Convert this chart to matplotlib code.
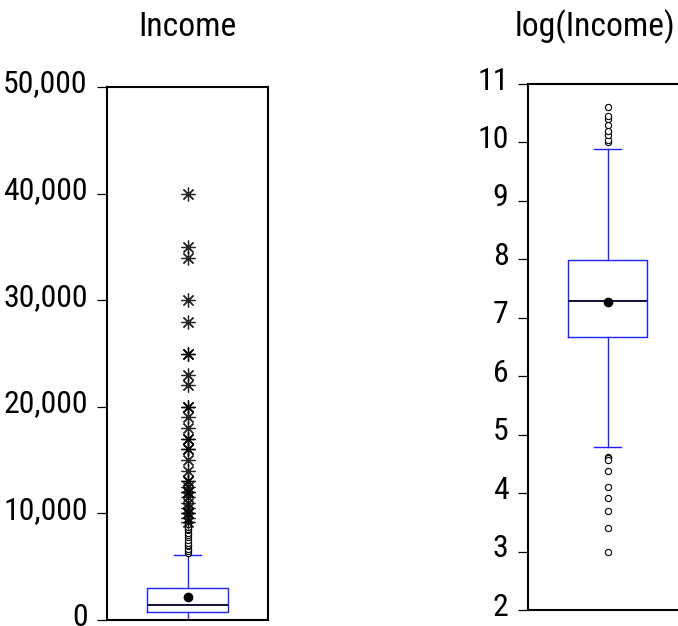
import matplotlib
matplotlib.use("Agg")
import matplotlib.pyplot as plt
from matplotlib.ticker import FuncFormatter
import matplotlib.font_manager as fm
import matplotlib.transforms as mtransforms
from matplotlib.textpath import TextPath
from matplotlib.font_manager import FontProperties

# ---- data ----
titles = ["Income", "log(Income)"]

inc_q1, inc_med, inc_q3 = 750, 1400, 3000
inc_mean = 2150
inc_whislo, inc_whishi = 20, 6100
inc_near_outliers = [6300, 6500, 6700, 6900, 7000, 7200, 7500, 7800, 8000,
                     8200, 8400, 8500, 8700, 9000]
inc_far_outliers = [40000, 35000, 34000, 30000, 28000, 25000, 25000, 23000,
                    22000, 20000, 20000, 19000, 18000, 17000, 17000, 16000,
                    16000, 15000, 14000, 13000, 13000, 12500, 12000, 12000,
                    11500, 11000, 10500, 10000, 10000, 9600, 9200]
inc_ticks = [0, 10000, 20000, 30000, 40000, 50000]

log_q1, log_med, log_q3 = 6.67, 7.29, 7.99
log_mean = 7.27
log_whislo, log_whishi = 4.79, 9.89
log_outliers = [10.0, 10.05, 10.13, 10.2, 10.3, 10.4, 10.46, 10.6,
                4.62, 4.6, 4.57, 4.38, 4.1, 3.92, 3.7, 3.4, 3.0]
log_ticks = [2, 3, 4, 5, 6, 7, 8, 9, 10, 11]

# ---- pick a narrow font if one is installed ----
names = {f.name for f in fm.fontManager.ttflist}
family, stretch = 'Liberation Sans', 'normal'
for cand in ['Liberation Sans Narrow', 'Arial Narrow', 'Roboto Condensed',
             'Open Sans Condensed', 'Noto Sans Condensed', 'DejaVu Sans Condensed']:
    if cand in names:
        family = cand
        break
else:
    for f in fm.fontManager.ttflist:
        if f.name in ('Liberation Sans', 'Noto Sans', 'Roboto', 'Open Sans', 'DejaVu Sans') \
                and str(f.stretch) in ('condensed', 'semi-condensed', 'extra-condensed', '75', '62.5', '87.5') \
                and f.style == 'normal':
            family, stretch = f.name, f.stretch
            break
plt.rcParams['font.family'] = [family, 'DejaVu Sans']
fp = FontProperties(family=family, stretch=stretch)

def size_for(text, target_px, max_pt):
    w = TextPath((0, 0), text, size=10, prop=fp).get_extents().width * 100 / 72
    return min(max_pt, 10 * target_px / w)

title_size = size_for("Income", 94, 24.5)
tick_size = size_for("50,000", 81, 24.5)

W, H = 678, 626
fig = plt.figure(figsize=(W / 100, H / 100), dpi=100)

def px_axes(x0, x1, y0, y1):
    return fig.add_axes([x0 / W, 1 - y1 / H, (x1 - x0) / W, (y1 - y0) / H])

ax1 = px_axes(107, 268, 87, 620)
ax2 = px_axes(528, 687, 84, 610)

blue = '#2020ff'

def draw(ax, q1, med, q3, mean, wlo, whi):
    stats = [dict(q1=q1, med=med, q3=q3, whislo=wlo, whishi=whi, mean=mean, fliers=[])]
    ax.bxp(stats, positions=[1], widths=0.5, capwidths=0.17, showfliers=False,
           showmeans=True, meanline=False,
           boxprops=dict(color=blue, linewidth=1.0),
           whiskerprops=dict(color=blue, linewidth=1.0),
           capprops=dict(color=blue, linewidth=1.0),
           medianprops=dict(color='#101040', linewidth=1.4),
           meanprops=dict(marker='o', markerfacecolor='black',
                          markeredgecolor='black', markersize=6))
    ax.set_xlim(0.5, 1.5)

draw(ax1, inc_q1, inc_med, inc_q3, inc_mean, inc_whislo, inc_whishi)
ax1.plot([1] * len(inc_near_outliers), inc_near_outliers, linestyle='none',
         marker='o', markersize=4.5, markerfacecolor='white',
         markeredgecolor='black', markeredgewidth=0.8)
ax1.plot([1] * len(inc_far_outliers), inc_far_outliers, linestyle='none',
         marker=(8, 2, 0), markersize=10, color='black', markeredgewidth=0.9,
         alpha=0.85)
ax1.set_ylim(0, 50000)
ax1.set_yticks(inc_ticks)
ax1.yaxis.set_major_formatter(FuncFormatter(lambda v, p: f"{int(v):,}"))

draw(ax2, log_q1, log_med, log_q3, log_mean, log_whislo, log_whishi)
ax2.plot([1] * len(log_outliers), log_outliers, linestyle='none',
         marker='o', markersize=4.5, markerfacecolor='white',
         markeredgecolor='black', markeredgewidth=0.8)
ax2.set_ylim(2, 11)
ax2.set_yticks(log_ticks)

lift = mtransforms.ScaledTranslation(0, 6 / 100, fig.dpi_scale_trans)
for ax in (ax1, ax2):
    ax.set_xticks([])
    ax.tick_params(axis='y', direction='out', length=7.5, width=0.9,
                   pad=6.5, labelsize=tick_size, colors='black')
    for tick in ax.yaxis.get_major_ticks():
        tick.label1.set_fontstretch(stretch)
        tick.label1.set_transform(tick.label1.get_transform() + lift)
    for s in ax.spines.values():
        s.set_linewidth(1.5)
        s.set_color('black')

fig.text(187 / W, 1 - 27 / H, titles[0], ha='center', va='center',
         fontsize=title_size, fontstretch=stretch)
fig.text(675 / W, 1 - 27 / H, titles[1], ha='right', va='center',
         fontsize=title_size, fontstretch=stretch)

fig.savefig("out.png", dpi=100)
